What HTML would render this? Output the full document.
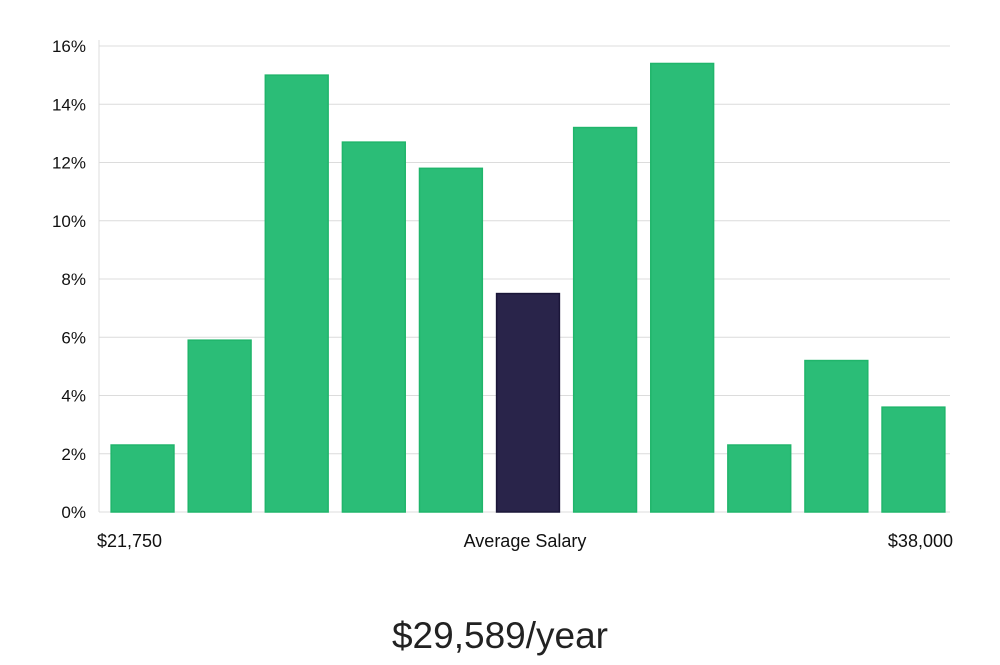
<!DOCTYPE html>
<html><head><meta charset="utf-8"><style>
body{margin:0;background:#fff;width:1000px;height:660px;overflow:hidden;font-family:"Liberation Sans",sans-serif}
</style></head><body>
<svg width="1000" height="660">
<g id="grid"></g><g id="bars"></g><g id="labels"></g>
<text x="500" y="648" text-anchor="middle" font-size="37" fill="#222" font-family="Liberation Sans, sans-serif">$29,589/year</text>
</svg>
<script>
const categories=["b1","b2","b3","b4","b5","b6","b7","b8","b9","b10","b11"];
const values=[2.3,5.9,15.0,12.7,11.8,7.5,13.2,15.4,2.3,5.2,3.6];
const highlightIndex=5;
const yTicks=[0,2,4,6,8,10,12,14,16];
const xLabels=["$21,750","Average Salary","$38,000"];
const NS="http://www.w3.org/2000/svg";
const x0=99,x1=950,y0=512,yTop=46,yMax=16;
const y=v=>y0-(v/yMax)*(y0-yTop);
const step=(x1-x0-3)/categories.length;
const bw=step*0.815;
const xb=i=>x0+5+i*step+(step-bw)/2;
function mk(t,a,p){const e=document.createElementNS(NS,t);for(const k in a)e.setAttribute(k,a[k]);p.appendChild(e);return e;}
const grid=document.getElementById('grid'),bars=document.getElementById('bars'),labels=document.getElementById('labels');
yTicks.forEach(t=>{
 const l=mk('line',{x1:x0,x2:x1,y1:y(t),y2:y(t),stroke:'#dcdcdc','stroke-width':1},grid);
 
 
 const tx=mk('text',{x:86,y:y(t)+6,'text-anchor':'end','font-size':17,fill:'#111'},labels);
 tx.textContent=t+'%';
 
 
});
const ax=mk('line',{x1:x0,x2:x0,y1:40,y2:y0,stroke:'#dcdcdc'},grid);


values.forEach((v,i)=>{
 const hi=i===highlightIndex;
 const r=mk('rect',{x:xb(i),y:y(v),width:bw,height:y0-y(v),fill:hi?'#29244a':'#2bbd77',stroke:hi?'#1a1638':'#20b56b','stroke-width':1.5},bars);
 
 
});
const lx=[{x:97,a:'start'},{x:525,a:'middle'},{x:953,a:'end'}];
xLabels.forEach((s,i)=>{
 const t=mk('text',{x:lx[i].x,y:547,'text-anchor':lx[i].a,'font-size':18,fill:'#111'},labels);
 t.textContent=s;
 
 
});
</script>
</body></html>
